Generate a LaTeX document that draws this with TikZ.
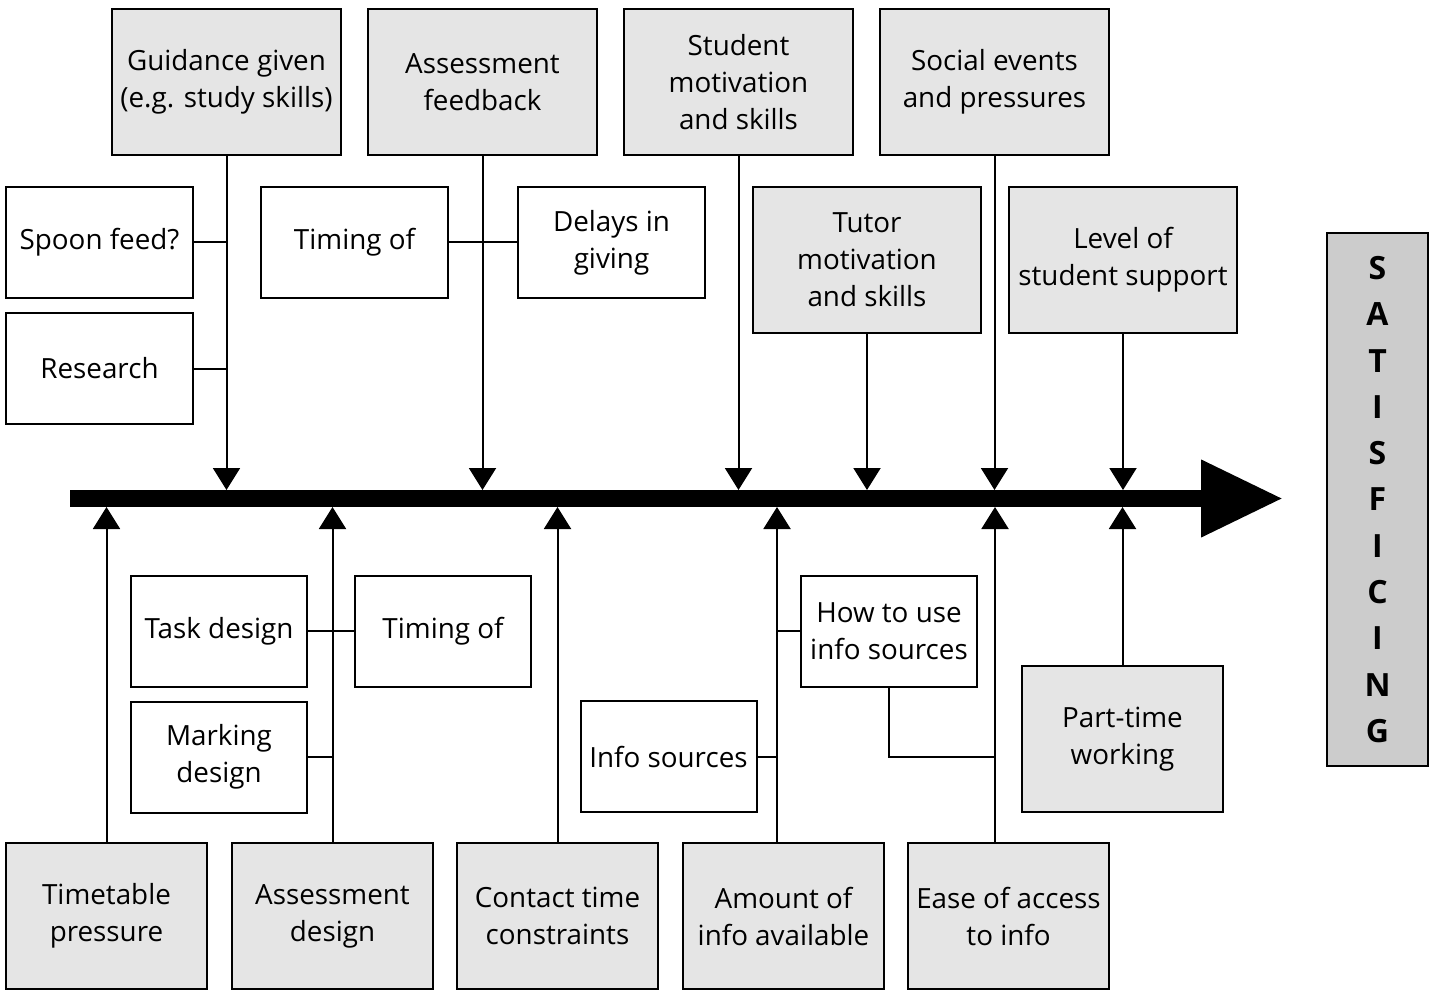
\documentclass[tikz,border=0pt]{standalone}
\usepackage{fontspec}
\setmainfont{Open Sans}
\usetikzlibrary{arrows.meta, positioning}
\definecolor{causegray}{gray}{0.9}
\definecolor{effectgray}{gray}{0.8}

\begin{document}
\begin{tikzpicture}[
    x=1pt, y=1pt,
    cause/.style={rectangle, draw, line width=2pt, fill=causegray, minimum width=229pt, minimum height=146pt, inner sep=0pt, align=center, font=\fontsize{27.8}{37}\selectfont},
    sub/.style={rectangle, draw, line width=2pt, fill=white, minimum width=187pt, minimum height=111pt, inner sep=0pt, align=center, font=\fontsize{27.8}{37}\selectfont},
    effect/.style={rectangle, draw, line width=2pt, fill=effectgray, minimum width=101pt, minimum height=533pt, inner sep=0pt, align=center, font=\fontsize{32}{46.3}\selectfont\bfseries},
    spine/.style={line width=17pt, -{Triangle[length=82pt 0, width=73pt 0]}},
    arr/.style={line width=2pt, -{Triangle[length=22pt 0, width=27pt 0]}},
    link/.style={line width=2pt}
]
    \useasboundingbox (0,0) rectangle (1429,-992);

    % Causes above the spine
    \node[cause] (guid) at (226.5,-82) {Guidance given\\(e.g. study skills)};
    \node[cause] (assess) at (482.5,-82) {Assessment\\feedback};
    \node[cause] (stmot) at (738.5,-82) {Student\\motivation\\and skills};
    \node[cause] (social) at (994.5,-82) {Social events\\and pressures};
    \node[cause, minimum width=228pt] (tutor) at (867,-260) {Tutor\\motivation\\and skills};
    \node[cause, minimum width=228pt] (level) at (1123,-260) {Level of\\student support};

    \node[sub] (spoon) at (99.5,-242.5) {Spoon feed?};
    \node[sub] (research) at (99.5,-368.5) {Research};
    \node[sub] (timtop) at (354.5,-242.5) {Timing of};
    \node[sub] (delays) at (611.5,-242.5) {Delays in\\giving};

    % Causes below the spine
    \node[cause, minimum width=201pt] (timetab) at (106.5,-916) {Timetable\\pressure};
    \node[cause, minimum width=201pt] (assdes) at (332.5,-916) {Assessment\\design};
    \node[cause, minimum width=201pt] (contact) at (557.5,-916) {Contact time\\constraints};
    \node[cause, minimum width=201pt] (amount) at (783.5,-916) {Amount of\\info available};
    \node[cause, minimum width=201pt] (ease) at (1008.5,-916) {Ease of access\\to info};
    \node[cause, minimum width=201pt] (parttime) at (1122.5,-739) {Part-time\\working};

    \node[sub, minimum width=176pt] (task) at (219,-631) {Task design};
    \node[sub, minimum width=176pt] (timbot) at (443,-631) {Timing of};
    \node[sub, minimum width=176pt] (marking) at (219,-757) {Marking\\design};
    \node[sub, minimum width=176pt] (infosrc) at (668.5,-756.5) {Info sources};
    \node[sub, minimum width=176pt] (howto) at (889,-631) {How to use\\info sources};

    % Effect
    \node[effect] (sat) at (1377.5,-499.5) {S\\A\\T\\I\\S\\F\\I\\C\\I\\N\\G};

    % Spine
    \coordinate (tail) at (70,-498.5);
    \coordinate (head) at (1283,-498.5);
    \coordinate (top) at (0,-490);
    \coordinate (bot) at (0,-507);
    \coordinate (amt) at ([xshift=-6.5pt]amount.north);
    \coordinate (eas) at ([xshift=-13.5pt]ease.north);
    \draw[spine] (tail) -- (head);

    % Arrows onto the spine
    \draw[arr] (guid) -- (guid |- top);
    \draw[arr] (assess) -- (assess |- top);
    \draw[arr] (stmot) -- (stmot |- top);
    \draw[arr] (tutor) -- (tutor |- top);
    \draw[arr] (social) -- (social |- top);
    \draw[arr] (level) -- (level |- top);
    \draw[arr] (timetab) -- (timetab |- bot);
    \draw[arr] (assdes) -- (assdes |- bot);
    \draw[arr] (contact) -- (contact |- bot);
    \draw[arr] (amt) -- (amt |- bot);
    \draw[arr] (eas) -- (eas |- bot);
    \draw[arr] (parttime) -- (parttime |- bot);

    % Sub-causes
    \draw[link] (spoon) -- (spoon -| guid);
    \draw[link] (research) -- (research -| guid);
    \draw[link] (timtop) -- (delays);
    \draw[link] (task) -- (timbot);
    \draw[link] (marking) -- (marking -| assdes);
    \draw[link] (infosrc) -- (infosrc -| amt);
    \draw[link] (howto) -- (howto -| amt);
    \draw[link] (howto.south) |- (infosrc -| eas);

\end{tikzpicture}
\end{document}
